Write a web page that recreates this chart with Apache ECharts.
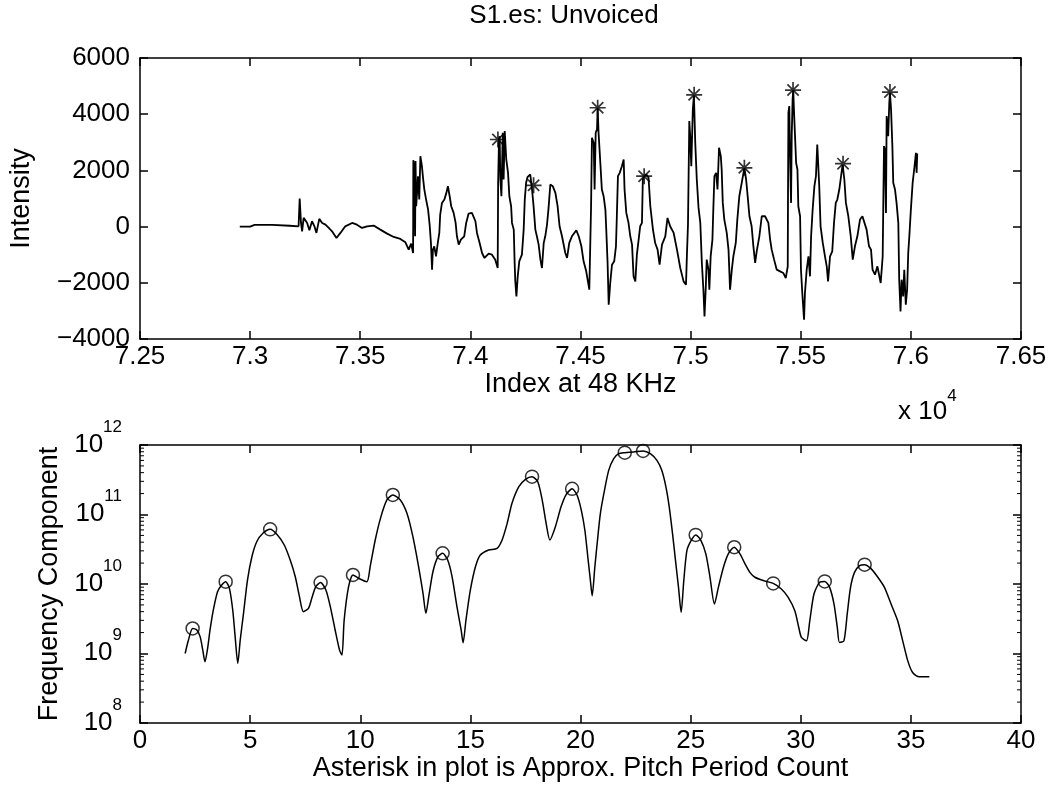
<!DOCTYPE html>
<html><head><meta charset="utf-8">
<script src="https://cdn.jsdelivr.net/npm/echarts@6/dist/echarts.min.js"></script>
<style>html,body{margin:0;padding:0;background:#fff}#c{width:1050px;height:786px}</style>
</head><body><div id="c"></div>
<script>
// ---- top panel: waveform (x in units of 10^4 samples) ----
const sigX = [7.2953,7.3000,7.3020,7.3100,7.3180,7.3220,7.3225,7.3231,7.3236,7.3243,7.3259,7.3269,7.3281,7.3292,7.3301,7.3314,7.3327,7.3342,7.3357,7.3372,7.3392,7.3410,7.3432,7.3463,7.3485,7.3508,7.3531,7.3561,7.3591,7.3622,7.3652,7.3682,7.3705,7.3720,7.3731,7.3740,7.3741,7.3745,7.3749,7.3751,7.3754,7.3759,7.3762,7.3768,7.3773,7.3780,7.3785,7.3791,7.3799,7.3808,7.3815,7.3821,7.3826,7.3830,7.3836,7.3844,7.3853,7.3859,7.3863,7.3871,7.3882,7.3891,7.3898,7.3906,7.3913,7.3924,7.3933,7.3939,7.3947,7.3957,7.3972,7.3981,7.3992,7.4007,
7.4023,7.4030,7.4042,7.4053,7.4064,7.4083,7.4098,7.4113,7.4124,7.4126,7.4130,7.4133,7.4136,7.4141,7.4147,7.4151,7.4156,7.4162,7.4163,7.4171,7.4177,7.4185,7.4189,7.4197,7.4201,7.4204,7.4209,7.4215,7.4222,7.4234,7.4242,7.4247,7.4253,7.4260,7.4272,7.4280,7.4287,7.4295,7.4302,7.4310,7.4318,7.4325,7.4333,7.4340,7.4348,7.4355,7.4363,7.4374,7.4386,7.4396,7.4405,7.4416,7.4431,7.4439,7.4449,7.4461,7.4472,7.4481,7.4492,7.4504,7.4514,7.4526,7.4540,7.4548,7.4552,7.4560,7.4564,7.4569,7.4575,7.4578,7.4582,7.4590,7.4597,7.4605,7.4613,7.4617,7.4623,7.4628,7.4635,7.4643,7.4653,7.4661,7.4665,7.4670,7.4678,7.4688,7.4696,7.4700,7.4708,7.4718,7.4726,7.4734,7.4741,7.4749,7.4756,7.4764,7.4771,7.4779,7.4783,7.4789,7.4799,7.4809,7.4817,7.4829,7.4839,7.4850,7.4859,7.4870,7.4885,7.4895,7.4907,7.4923,7.4938,7.4953,7.4968,7.4979,7.4983,7.4988,7.4994,7.4998,7.5003,7.5010,7.5015,7.5021,7.5028,7.5036,7.5044,7.5051,7.5058,7.5063,7.5069,7.5073,7.5081,7.5085,7.5091,7.5099,7.5103,7.5108,7.5116,7.5122,7.5129,7.5137,7.5141,7.5146,7.5153,7.5164,7.5172,7.5179,7.5187,7.5194,7.5205,7.5212,7.5221,7.5232,7.5240,7.5244,7.5252,7.5259,7.5267,7.5277,7.5285,7.5293,7.5300,7.5312,7.5323,7.5338,7.5353,7.5361,7.5368,7.5379,7.5391,7.5406,7.5421,7.5432,7.5441,7.5442,7.5444,7.5448,7.5451,7.5456,7.5459,7.5463,7.5466,7.5469,7.5474,7.5479,7.5485,7.5489,7.5497,7.5501,7.5507,7.5515,7.5519,7.5527,7.5535,7.5542,7.5547,7.5554,7.5562,7.5569,7.5575,7.5581,7.5584,7.5590,7.5600,7.5610,7.5618,7.5624,7.5633,7.5643,7.5651,7.5659,7.5666,7.5675,7.5681,7.5690,7.5698,7.5705,7.5716,7.5727,7.5736,7.5746,7.5757,7.5769,7.5780,7.5789,7.5799,7.5810,7.5819,7.5826,7.5837,7.5848,7.5857,7.5863,7.5872,7.5878,7.5882,7.5887,7.5890,7.5897,7.5902,7.5905,7.5910,7.5916,7.5920,7.5928,7.5935,7.5943,7.5947,7.5953,7.5958,7.5965,7.5970,7.5977,7.5983,7.5988,7.5993,7.6000,7.6008,7.6015,7.6023,7.6026,7.6029];
const sigY = [0,0,60,60,30,10,998,130,-167,310,130,-130,190,10,-225,275,130,70,-48,-167,-404,-225,10,130,70,-48,10,36,-107,-250,-368,-440,-560,-820,-606,-938,2364,2150,-345,2330,724,1319,1793,962,2507,2150,1735,1319,962,606,71,-582,-1533,-820,-701,-1058,-523,-225,428,843,962,1200,1437,1081,724,488,131,-345,-640,-463,-345,131,463,488,
190,-226,-582,-939,-1117,-962,-998,-1176,-1473,1557,3101,3220,1676,1081,3339,1676,3399,3458,2389,1913,1081,725,131,-107,-1295,-1949,-2483,-1770,-1236,-998,-107,963,1557,1771,1854,1319,725,-107,-345,-642,-1176,-1473,-582,-345,71,666,1497,1438,1200,725,12,-345,-939,-1117,-582,-345,-226,-131,-345,-701,-1236,-1592,-2246,725,3161,2983,1319,3339,3458,4230,3339,2270,1319,1081,606,-107,-1295,-2781,-2008,-1355,-1236,-701,368,1794,1913,2151,2389,1319,487,131,-345,-642,-1770,-1949,-998,-463,12,131,1676,1794,1854,1735,725,-107,-582,-820,-1355,-642,-345,309,12,-226,-820,-1473,-1949,-2068,-1058,71,3755,3220,2151,4171,4670,2983,1676,666,131,-1295,-2246,-3197,-2127,-1176,-1533,-2246,-1057,-463,606,1794,1913,1319,2805,2507,2032,844,250,-226,-820,-2246,-1533,-1057,-582,250,1081,1557,1913,2092,1676,1081,368,12,-701,-1295,-879,-345,368,368,131,-463,-820,-1176,-1533,-1592,-1652,-1830,-1414,844,4052,4290,2626,844,3220,4528,4860,4171,3220,2270,2032,725,368,-1533,-2365,-3315,-2365,-1533,-1057,-1770,-345,606,1438,1794,2923,2864,1438,12,-582,-1057,-1414,-1949,-1057,-879,131,844,963,1319,1676,2210,1676,844,368,-345,-1176,-701,-345,250,368,368,-107,-701,-820,-1533,-1711,-1414,-1473,-2008,-1057,2864,2745,487,3933,3220,4409,4765,4171,2864,1557,1319,844,131,-1889,-3018,-1889,-2483,-1533,-2780,-2246,-938,-345,606,1557,2032,2626,1913,2600];
// asterisks: approximate pitch peaks
const peakX = [7.4125,7.4287,7.4578,7.4789,7.5016,7.5244,7.5465,7.5692,7.5905];
const peakY = [3100,1470,4230,1794,4690,2092,4860,2240,4789];

// ---- bottom panel: frequency components (log scale) ----
const specX = [2.05,2.20,2.39,2.58,2.73,2.85,2.95,3.08,3.18,3.33,3.52,3.71,3.89,4.06,4.21,4.32,4.44,4.55,4.70,4.88,5.08,5.30,5.58,5.91,6.24,6.55,6.82,7.05,7.24,7.42,7.65,7.80,7.98,8.20,8.44,8.64,8.86,9.06,9.17,9.27,9.47,9.67,9.92,10.30,10.45,10.68,10.94,11.21,11.48,11.82,12.12,12.39,12.65,12.85,12.98,13.11,13.30,13.53,13.74,13.97,14.17,14.39,14.58,14.67,14.80,15.00,15.23,15.45,15.83,16.21,16.44,16.67,16.89,17.20,17.50,17.80,18.06,18.26,18.44,18.61,18.86,19.12,19.36,19.62,19.85,20.04,20.20,20.35,20.45,20.53,20.65,20.77,20.90,21.06,21.28,21.51,21.73,22.01,22.41,22.84,23.17,23.47,23.69,23.88,24.03,24.18,24.33,24.45,24.57,24.69,24.83,25.02,25.23,25.47,25.69,25.88,26.08,26.26,26.49,26.71,26.98,27.24,27.47,27.69,27.92,28.30,28.75,29.12,29.43,29.73,29.91,30.03,30.26,30.41,30.60,30.86,31.09,31.31,31.51,31.66,31.76,31.96,32.11,32.26,32.44,32.67,32.90,33.20,33.50,33.80,34.10,34.40,34.63,34.86,35.08,35.38,35.84];
const specY = [1.00e9,1.56e9,2.29e9,2.18e9,1.75e9,1.12e9,7.6e8,1.25e9,2.18e9,4.23e9,7.76e9,9.66e9,1.08e10,8.67e9,4.23e9,1.75e9,7.2e8,1.56e9,3.78e9,1.14e10,2.47e10,4.06e10,5.36e10,6.12e10,5.07e10,3.64e10,2.21e10,1.27e10,6.58e9,4.0e9,4.47e9,6.22e9,9.16e9,1.05e10,8.2e9,4.72e9,2.18e9,1.12e9,9.5e8,3.03e9,9.16e9,1.35e10,1.21e10,1.08e10,1.78e10,4.30e10,9.31e10,1.62e11,1.91e11,1.62e11,1.04e11,4.80e10,1.77e10,7.35e9,3.78e9,6.58e9,1.50e10,2.47e10,2.76e10,2.21e10,1.27e10,4.72e9,2.18e9,1.43e9,3.03e9,8.2e9,1.77e10,2.61e10,3.08e10,3.26e10,4.30e10,7.46e10,1.45e11,2.51e11,3.21e11,3.50e11,2.96e11,1.62e11,7.46e10,4.30e10,6.68e10,1.30e11,1.97e11,2.34e11,1.88e11,1.14e11,5.89e10,2.17e10,1.12e10,6.79e9,1.74e10,4.22e10,1.02e11,1.99e11,4.32e11,6.35e11,7.50e11,7.76e11,7.93e11,8.20e11,7.50e11,6.01e11,4.32e11,2.48e11,1.28e11,5.26e10,1.95e10,8.95e9,3.91e9,1.12e10,3.03e10,4.22e10,5.09e10,4.22e10,2.71e10,1.25e10,5.15e9,8.95e9,1.74e10,2.71e10,3.38e10,2.71e10,1.95e10,1.47e10,1.25e10,1.12e10,1.02e10,8.47e9,6.43e9,4.13e9,2.37e9,1.70e9,1.52e9,2.96e9,7.18e9,1.06e10,1.09e10,8.95e9,5.15e9,2.37e9,1.44e9,1.52e9,3.70e9,8.95e9,1.47e10,1.84e10,1.90e10,1.65e10,1.25e10,8.95e9,5.15e9,2.96e9,1.52e9,7.83e8,5.32e8,4.61e8,4.61e8];
// circles
const circX = [2.39,3.89,5.91,8.20,9.67,11.48,13.74,17.80,19.62,22.01,22.84,25.23,26.98,28.75,31.09,32.90];
const circY = [2.29e9,1.08e10,6.12e10,1.05e10,1.35e10,1.91e11,2.76e10,3.50e11,2.34e11,7.76e11,8.20e11,5.09e10,3.38e10,1.02e10,1.09e10,1.90e10];

// text
const titleText = 'S1.es: Unvoiced';
const topXName = 'Index at 48 KHz';
const topYName = 'Intensity';
const botXName = 'Asterisk in plot is Approx. Pitch Period Count';
const botYName = 'Frequency Component';

const FONT = 'Liberation Sans';
const FS = 26;
const NFS = 27;

const minorTicks = [];
for (let e = 8; e < 12; e++) for (let m = 2; m <= 9; m++) minorTicks.push([0, m * Math.pow(10, e)]);

const blk = {color:'#000', width:1.5};
function xAx(grid, min, max, itv, pos, showLab, name, gap, fmt) {
  return {gridIndex:grid, type:'value', min, max, interval:itv, position:pos,
    axisLine:{onZero:false, lineStyle:blk},
    axisTick:{inside:true, length:8, lineStyle:blk},
    axisLabel:{show:showLab, color:'#000', fontSize:FS, fontFamily:FONT, margin:5, showMinLabel:true, showMaxLabel:true, formatter:fmt},
    splitLine:{show:false},
    name: name || '', nameLocation:'middle', nameGap:gap || 0,
    nameTextStyle:{color:'#000', fontSize:NFS, fontFamily:FONT}};
}
const asterisk = 'path://M10,0L10,20M0,10L20,10M2.93,2.93L17.07,17.07M2.93,17.07L17.07,2.93';

const chart = echarts.init(document.getElementById('c'));
chart.setOption({
  animation:false,
  backgroundColor:'#fff',
  textStyle:{fontFamily:FONT, color:'#000'},
  grid:[{left:140, top:58, width:881, height:281}, {left:140, top:445, width:881, height:278}],
  xAxis:[
    xAx(0, 7.25, 7.65, 0.05, 'bottom', true, topXName, 30, v => String(Math.round(v*100)/100)),
    xAx(0, 7.25, 7.65, 0.05, 'top', false),
    xAx(1, 0, 40, 5, 'bottom', true, botXName, 31, v => String(Math.round(v))),
    xAx(1, 0, 40, 5, 'top', false)
  ],
  yAxis:[
    {gridIndex:0, type:'value', min:-4000, max:6000, interval:2000, position:'left',
     axisLine:{onZero:false, lineStyle:blk}, axisTick:{inside:true, length:8, lineStyle:blk},
     axisLabel:{color:'#000', fontSize:FS, fontFamily:FONT, margin:10, formatter: v => v < 0 ? '\u2212' + Math.abs(v) : String(v)},
     splitLine:{show:false}, name:topYName, nameLocation:'middle', nameGap:105,
     nameTextStyle:{color:'#000', fontSize:NFS, fontFamily:FONT}},
    {gridIndex:0, type:'value', min:-4000, max:6000, interval:2000, position:'right',
     axisLine:{onZero:false, lineStyle:blk}, axisTick:{inside:true, length:8, lineStyle:blk},
     axisLabel:{show:false}, splitLine:{show:false}},
    {gridIndex:1, type:'log', logBase:10, min:1e8, max:1e12, interval:1, position:'left',
     axisLine:{onZero:false, lineStyle:blk}, axisTick:{inside:true, length:8, lineStyle:blk},
     axisLabel:{color:'#000', margin:18, padding:[30,0,0,0], formatter: v => '{b|10}{s|' + Math.round(Math.log10(v)) + '}',
       rich:{b:{fontSize:FS, fontFamily:FONT, color:'#000', lineHeight:27, verticalAlign:'bottom', padding:[0,0,16,0]},
             s:{fontSize:17, fontFamily:FONT, color:'#000', lineHeight:17, verticalAlign:'bottom', padding:[0,0,38,0]}}},
     splitLine:{show:false}, name:botYName, nameLocation:'middle', nameGap:77,
     nameTextStyle:{color:'#000', fontSize:NFS, fontFamily:FONT}},
    {gridIndex:1, type:'log', logBase:10, min:1e8, max:1e12, interval:1, position:'right',
     axisLine:{onZero:false, lineStyle:blk}, axisTick:{inside:true, length:8, lineStyle:blk},
     axisLabel:{show:false}, splitLine:{show:false}}
  ],
  graphic:[
    {type:'text', x:564, y:16, style:{text:titleText, fontSize:FS, fontFamily:FONT, fill:'#000', textAlign:'center', textVerticalAlign:'middle'}},
    {type:'text', x:898, y:398, style:{text:'{b|x 10}{s|4}', fontFamily:FONT,
      rich:{b:{fontSize:FS, fontFamily:FONT, fill:'#000', lineHeight:27, verticalAlign:'bottom'},
            s:{fontSize:17, fontFamily:FONT, fill:'#000', lineHeight:17, verticalAlign:'bottom', padding:[0,0,20,0]}}}}
  ],
  series:[
    {type:'line', xAxisIndex:0, yAxisIndex:0, data:sigX.map((x,i)=>[x, sigY[i]]), symbol:'none',
     lineStyle:{color:'#000', width:1.8}, silent:true},
    {type:'scatter', xAxisIndex:0, yAxisIndex:0, data:peakX.map((x,i)=>[x, peakY[i]]), symbol:asterisk, symbolSize:16,
     itemStyle:{color:'rgba(0,0,0,0)', borderColor:'#000', borderWidth:1.7}},
    {type:'line', xAxisIndex:2, yAxisIndex:2, data:specX.map((x,i)=>[x, specY[i]]), symbol:'none', smooth:0.25,
     lineStyle:{color:'#000', width:1.5}, silent:true},
    {type:'scatter', xAxisIndex:2, yAxisIndex:2, data:circX.map((x,i)=>[x, circY[i]]), symbol:'circle', symbolSize:13,
     itemStyle:{color:'rgba(0,0,0,0)', borderColor:'#000', borderWidth:1.5}},
    {type:'custom', xAxisIndex:2, yAxisIndex:2, data:minorTicks, encode:{x:0, y:1}, silent:true,
     renderItem:(params, api) => {
       const l = api.coord([0, api.value(1)]);
       const r = api.coord([40, api.value(1)]);
       return {type:'group', children:[
         {type:'line', shape:{x1:l[0], y1:l[1], x2:l[0]+4, y2:l[1]}, style:{stroke:'#000', lineWidth:1}},
         {type:'line', shape:{x1:r[0]-4, y1:r[1], x2:r[0], y2:r[1]}, style:{stroke:'#000', lineWidth:1}}
       ]};
     }}
  ]
});
</script></body></html>
